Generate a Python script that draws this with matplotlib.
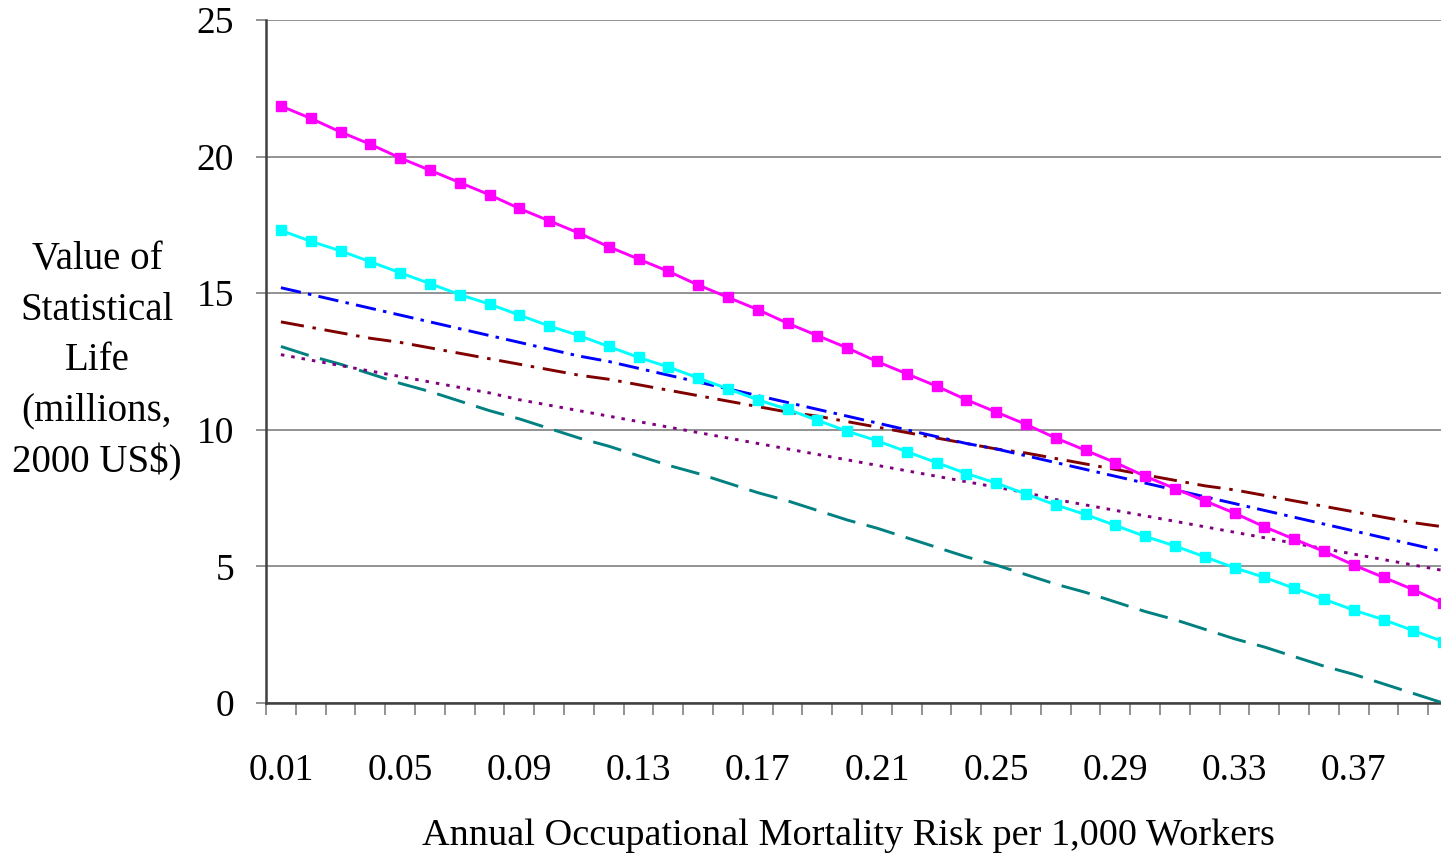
import numpy as np
import matplotlib
matplotlib.use("Agg")
import matplotlib.pyplot as plt

plt.rcParams['font.family'] = ['Liberation Serif', 'DejaVu Serif']

# annual occupational mortality risk per 1,000 workers
risk_labels = ['%.2f' % (r / 100) for r in range(1, 41)]

# value of statistical life, millions of 2000 US$
vsl_magenta = [21.85, 21.4, 20.9, 20.45, 19.95, 19.5, 19.05, 18.6, 18.1, 17.65,
               17.2, 16.7, 16.25, 15.8, 15.3, 14.85, 14.4, 13.9, 13.45, 13.0,
               12.5, 12.05, 11.6, 11.1, 10.65, 10.2, 9.7, 9.25, 8.8, 8.3,
               7.85, 7.4, 6.95, 6.45, 6.0, 5.55, 5.05, 4.6, 4.15, 3.65]
vsl_cyan = [17.3, 16.9, 16.55, 16.15, 15.75, 15.35, 14.95, 14.6, 14.2, 13.8,
            13.45, 13.05, 12.65, 12.3, 11.9, 11.5, 11.1, 10.75, 10.35, 9.95,
            9.6, 9.2, 8.8, 8.4, 8.05, 7.65, 7.25, 6.9, 6.5, 6.1,
            5.75, 5.35, 4.95, 4.6, 4.2, 3.8, 3.4, 3.05, 2.65, 2.25]
vsl_blue = [15.2, 14.95, 14.7, 14.45, 14.2, 13.95, 13.7, 13.45, 13.2, 12.95,
            12.7, 12.5, 12.25, 12.0, 11.75, 11.5, 11.25, 11.0, 10.75, 10.5,
            10.25, 10.0, 9.75, 9.5, 9.3, 9.05, 8.8, 8.55, 8.3, 8.05,
            7.8, 7.55, 7.3, 7.05, 6.8, 6.55, 6.3, 6.05, 5.8, 5.55]
vsl_darkred = [13.95, 13.75, 13.55, 13.35, 13.2, 13.0, 12.8, 12.6, 12.4, 12.2,
               12.0, 11.85, 11.65, 11.45, 11.25, 11.05, 10.85, 10.65, 10.5, 10.3,
               10.1, 9.9, 9.7, 9.5, 9.3, 9.15, 8.95, 8.75, 8.55, 8.35,
               8.15, 7.95, 7.8, 7.6, 7.4, 7.2, 7.0, 6.8, 6.6, 6.45]
vsl_purple = [12.75, 12.55, 12.35, 12.15, 11.95, 11.75, 11.55, 11.35, 11.1, 10.9,
              10.7, 10.5, 10.3, 10.1, 9.9, 9.7, 9.5, 9.3, 9.1, 8.9,
              8.7, 8.5, 8.3, 8.1, 7.9, 7.7, 7.45, 7.25, 7.05, 6.85,
              6.65, 6.45, 6.25, 6.05, 5.85, 5.65, 5.45, 5.25, 5.05, 4.85]
vsl_teal = [13.05, 12.7, 12.4, 12.05, 11.7, 11.4, 11.05, 10.7, 10.4, 10.05,
            9.7, 9.4, 9.05, 8.7, 8.4, 8.05, 7.7, 7.4, 7.05, 6.7,
            6.4, 6.05, 5.7, 5.35, 5.05, 4.7, 4.35, 4.05, 3.7, 3.35,
            3.05, 2.7, 2.35, 2.05, 1.7, 1.35, 1.05, 0.7, 0.35, 0.0]

x = np.arange(len(risk_labels))

fig = plt.figure(figsize=(14.41, 8.61), dpi=100)
# plot area runs a little past the right edge of the picture, as in the original
ax = fig.add_axes([0.1846, 0.1835, 0.8272, 0.7933])

lw = 2.1
ax.plot(x, vsl_teal, color='#008080', lw=lw, dashes=(10, 4), zorder=3)
ax.plot(x, vsl_purple, color='#800080', lw=lw, dashes=(1.2, 2.4), zorder=3)
ax.plot(x, vsl_darkred, color='#800000', lw=lw, dashes=(8, 3, 1.2, 3), zorder=3)
ax.plot(x, vsl_blue, color='#0000FF', lw=lw, dashes=(7, 2.5, 1.2, 2.5), zorder=3)
ax.plot(x, vsl_cyan, color='#00FFFF', lw=lw, marker='s', markersize=6.5, zorder=4)
ax.plot(x, vsl_magenta, color='#FF00FF', lw=lw, marker='s', markersize=6.5, zorder=5)

ax.set_xlim(-0.5, len(x) - 0.5)
ax.set_ylim(0, 25)

# y axis
ax.set_yticks([0, 5, 10, 15, 20, 25])
ax.yaxis.grid(True, color='#808080', lw=1.2)
ax.tick_params(axis='y', direction='out', length=7, width=1.2, color='#808080',
               labelsize=27, pad=16)

# x axis: ticks between categories, label every 4th category
ax.set_xticks(np.arange(-0.5, len(x), 1.0))
ax.set_xticklabels([])
ax.set_xticks(x[::4], minor=True)
ax.set_xticklabels(risk_labels[::4], minor=True)
ax.tick_params(axis='x', which='major', direction='out', length=8.5, width=1.2,
               color='#808080')
ax.tick_params(axis='x', which='minor', length=0, labelsize=27, pad=36)

for s in ['top', 'right']:
    ax.spines[s].set_visible(False)
for s in ['left', 'bottom']:
    ax.spines[s].set_color('#404040')
    ax.spines[s].set_linewidth(1.8)

ax.set_ylabel('Value of\nStatistical\nLife\n(millions,\n2000 US$)', rotation=0,
              fontsize=28, ha='center', va='center', linespacing=1.48)
ax.yaxis.set_label_coords(-0.1418, 0.5)
ax.set_xlabel('Annual Occupational Mortality Risk per 1,000 Workers', fontsize=27.5,
              va='center')
ax.xaxis.set_label_coords(0.489, -0.195)

fig.savefig('out.png', dpi=100)
